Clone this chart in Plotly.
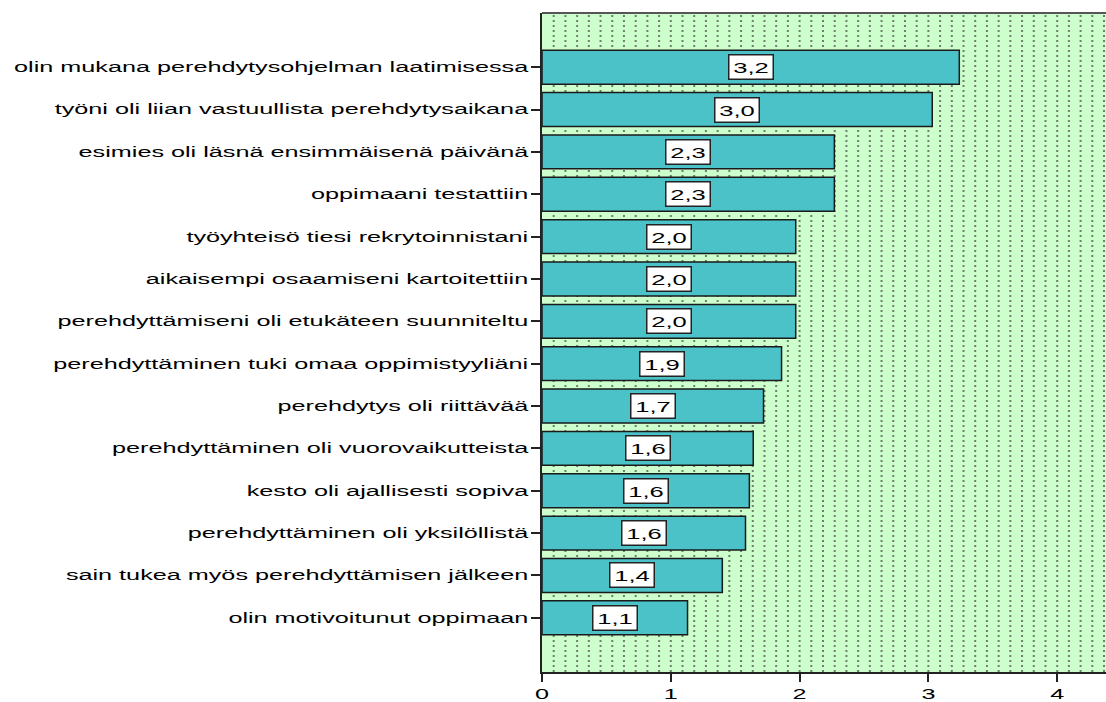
import plotly.graph_objects as go

categories = [
    "olin mukana perehdytysohjelman laatimisessa",
    "työni oli liian vastuullista perehdytysaikana",
    "esimies oli läsnä ensimmäisenä päivänä",
    "oppimaani testattiin",
    "työyhteisö tiesi rekrytoinnistani",
    "aikaisempi osaamiseni kartoitettiin",
    "perehdyttämiseni oli etukäteen suunniteltu",
    "perehdyttäminen tuki omaa oppimistyyliäni",
    "perehdytys oli riittävää",
    "perehdyttäminen oli vuorovaikutteista",
    "kesto oli ajallisesti sopiva",
    "perehdyttäminen oli yksilöllistä",
    "sain tukea myös perehdyttämisen jälkeen",
    "olin motivoitunut oppimaan",
]
values = [3.24, 3.03, 2.27, 2.27, 1.97, 1.97, 1.97, 1.86, 1.72, 1.64, 1.61, 1.58, 1.40, 1.13]
x_ticks = [0, 1, 2, 3, 4]

labels = [f"{v:.1f}".replace(".", ",") for v in values]

FONT = "Liberation Sans, Arial, sans-serif"
X_MAX = 4.379

fig = go.Figure()
fig.add_trace(go.Bar(
    x=values, y=categories, orientation="h",
    marker=dict(color="#4ac2c8", line=dict(color="#1a1a1a", width=1.5)),
    width=0.8, hoverinfo="skip", showlegend=False,
))

annotations = []
for c, v, t in zip(categories, values, labels):
    annotations.append(dict(
        x=v / 2, y=c, xref="x", yref="y", text=t, showarrow=False,
        font=dict(family=FONT, size=15, color="black"),
        bgcolor="white", bordercolor="#222222", borderwidth=1.5,
        width=41, height=21, borderpad=1,
    ))

shapes = []
k = 1
while k / 11 < X_MAX:
    shapes.append(dict(
        type="line", xref="x", yref="paper", x0=k / 11, x1=k / 11, y0=0, y1=1,
        line=dict(color="#6f7f6f", width=2, dash="2px,3px"), layer="below",
    ))
    k += 1
shapes.append(dict(type="line", xref="paper", yref="paper", x0=0, x1=1, y0=1, y1=1,
                   line=dict(color="#555555", width=2), layer="above"))

fig.update_layout(
    width=1106, height=702,
    margin=dict(l=542, r=0, t=13, b=26, pad=0),
    paper_bgcolor="white", plot_bgcolor="#ccffcc",
    font=dict(family=FONT, size=14, color="black"),
    annotations=annotations, shapes=shapes,
    xaxis=dict(range=[0, X_MAX], tickvals=x_ticks, ticktext=[str(t) for t in x_ticks],
               showgrid=False, zeroline=False, showline=True, linecolor="#222222", linewidth=2,
               ticks="outside", ticklen=8, tickwidth=2, tickcolor="#222222",
               tickfont=dict(family=FONT, size=14, color="black")),
    yaxis=dict(categoryorder="array", categoryarray=categories,
               range=[len(categories) - 1 + 1.28, -1.28],
               showgrid=False, zeroline=False, showline=True, linecolor="#222222", linewidth=2,
               ticks="outside", ticklen=9, tickwidth=1.5, tickcolor="#222222",
               tickfont=dict(family=FONT, size=14, color="black")),
)

post = """
(function(){
  var gd = document.getElementById('{plot_id}');
  function stretch(){
    gd.querySelectorAll('.ytick text, .xtick text, text.annotation-text').forEach(function(t){
      if (t.getAttribute('data-stretched')) return;
      var sx = t.classList.contains('annotation-text') ? 1.7 : 1.8;
      var w = t.getComputedTextLength();
      if (w > 0) {
        t.setAttribute('textLength', (w * sx).toFixed(1));
        t.setAttribute('lengthAdjust', 'spacingAndGlyphs');
        t.setAttribute('data-stretched', '1');
      }
    });
  }
  stretch();
})();
"""

fig.write_html("out.html", post_script=post)
